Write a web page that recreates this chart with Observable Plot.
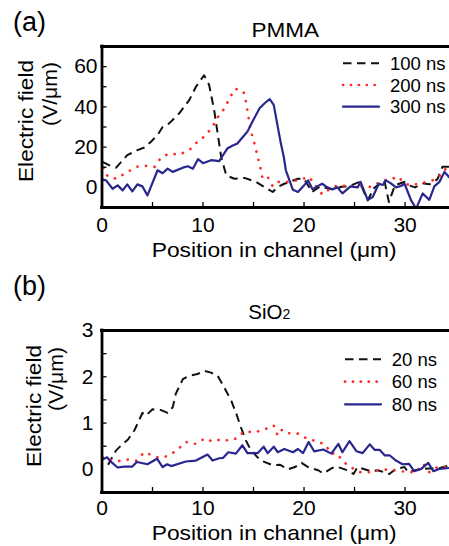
<!DOCTYPE html>
<html>
<head>
<meta charset="utf-8">
<script src="https://cdn.jsdelivr.net/npm/d3@7"></script>
<script src="https://cdn.jsdelivr.net/npm/@observablehq/plot@0.6"></script>
<style>
  html, body { margin: 0; padding: 0; background: #fff; }
  #wrap { position: relative; width: 449px; height: 546px; overflow: hidden; background: #fff; }
  #wrap > svg { position: absolute; left: 0; }
  #overlay { top: 0; pointer-events: none; font-family: "Liberation Sans", Arial, sans-serif; }
</style>
</head>
<body>
<div id="wrap"></div>
<script>
// ---------- Data (position in µm, electric field) ----------
const xTicks = [0, 10, 20, 30];
const xMinorTicks = [5, 10, 15, 20, 25, 30];

// (a) PMMA, field in V/µm
const pmmaYTicks = [0, 20, 40, 60];
const pmmaYMinor = [10, 20, 30, 40, 50, 60];
const pmmaLabels = ["100 ns", "200 ns", "300 ns"];
const pmma100 = [[0.05,12.7],[0.7,11],[1.4,9.8],[2.5,16],[3.5,18.5],[4.2,19.8],[4.85,22.7],[5.5,26],[6.0,30],[6.65,31.8],[7.65,36.8],[8.65,43.5],[9.3,50],[10.1,55.7],[10.6,51],[11.1,38.5],[11.45,26.8],[11.8,15],[12.3,6],[13.1,4.3],[14.1,4.7],[15.25,2.7],[16.05,0.2],[16.9,-2.3],[17.4,0.2],[18.05,1.8],[19.4,4.3],[20.0,4.3],[20.8,-2.3],[21.6,0.5],[22.3,-0.5],[23.0,-1],[23.7,0.3],[24.4,0.5],[25.5,2.7],[26.3,-6.5],[26.9,-0.5],[27.95,3.5],[28.4,-7.3],[29.0,1],[29.9,2.7],[30.4,1],[31.0,0],[31.7,2],[32.4,1.5],[33.2,4],[33.7,10.2],[34.4,10.2]];
const pmma200 = [[0.15,9.8],[0.55,5.5],[1.4,4.3],[2.4,7.3],[3.4,10.2],[4.35,10.7],[5.2,10.2],[5.85,14.8],[6.65,16.8],[7.65,16.3],[8.65,18.5],[9.45,22.7],[10.2,25.5],[10.95,30.2],[11.6,36],[12.2,39.7],[12.6,44.3],[13.2,49],[14.0,47.7],[14.25,42.7],[14.4,38],[14.7,28.5],[15.0,23.5],[15.25,18.5],[15.7,9.3],[15.9,4.3],[16.4,5.2],[16.9,0.5],[17.4,2.7],[18.4,2.7],[19.4,3.5],[20.5,5.2],[21.2,0.5],[21.8,-3.5],[22.5,-1],[23.3,1],[24.5,0.5],[25.8,0.5],[26.6,0.2],[27.2,1.8],[27.9,3.5],[28.8,4.3],[29.2,5.5],[29.8,3],[30.4,1],[31.0,1.5],[31.7,2.2],[32.4,3],[33.2,4.3],[33.9,8.5],[34.3,11]];
const pmma300 = [[0,4],[0.4,3.5],[1.05,-0.7],[1.55,1],[2.05,-1.5],[2.5,1.5],[3.0,-2],[3.5,1.5],[4.0,0.5],[4.5,-4],[5.5,8.5],[6.0,7],[6.5,9.3],[7.0,7.7],[8.0,9.8],[8.5,10.5],[9.0,9.3],[9.5,14],[10.0,12],[10.8,13.5],[11.6,13],[12.4,19.3],[12.9,20.7],[13.4,21.8],[13.9,24.8],[14.4,27.7],[14.9,32.7],[15.6,39.3],[16.1,41.8],[16.6,43.8],[17.0,41],[17.7,22],[18.0,15],[18.2,8.5],[18.9,-1.2],[19.4,-2.3],[19.9,0.4],[20.4,3.5],[20.85,-1],[21.3,0.5],[21.8,1.8],[22.3,0],[22.8,-1],[23.3,0],[23.8,-3],[24.6,0.5],[25.3,0],[25.6,2.7],[26.3,-6.2],[26.8,-4.8],[27.4,1.8],[27.8,1.2],[28.1,3.5],[28.6,2],[29.1,0],[29.6,0.7],[29.95,1.8],[30.6,-6.5],[31.1,-10.5],[31.75,-3],[32.4,-6.2],[32.9,0.5],[33.4,2.7],[33.9,7.7],[34.5,4.3]];

// (b) SiO2, field in V/µm
const sio2YTicks = [0, 1, 2, 3];
const sio2YMinor = [0.5, 1, 1.5, 2, 2.5];
const sio2Labels = ["20 ns", "60 ns", "80 ns"];
const sio2_20 = [[0.6,0.1],[1.4,0.41],[2.05,0.55],[2.55,0.64],[3.2,0.84],[3.5,0.98],[4.0,1.22],[4.35,1.16],[5.0,1.3],[5.85,1.28],[6.5,1.22],[7.0,1.34],[7.3,1.63],[8.0,1.95],[8.6,2.02],[9.45,2.06],[10.1,2.13],[10.8,2.09],[11.45,2.02],[12.1,1.77],[12.8,1.48],[13.3,1.2],[13.75,0.91],[14.25,0.62],[14.75,0.41],[15.4,0.26],[15.75,0.19],[16.9,0.09],[17.6,0.1],[18.4,0],[19.1,0.05],[19.75,0.14],[20.4,0.05],[21.4,-0.02],[21.9,-0.09],[22.8,0.03],[23.2,0.06],[24.3,-0.02],[24.9,-0.1],[25.3,0.05],[26.6,-0.04],[27.3,-0.02],[28.45,-0.1],[29.1,0.01],[29.95,0.05],[30.3,-0.06],[31.3,0],[32.3,0.02],[33.3,0.02],[34.3,0.08]];
const sio2_60 = [[0.05,0.26],[0.7,0.21],[1.55,0.18],[2.55,0.21],[3.35,0.18],[4.2,0.37],[4.8,0.32],[5.6,0.25],[6.35,0.28],[7.3,0.39],[8.3,0.59],[9.3,0.55],[10.2,0.67],[10.95,0.6],[11.8,0.65],[12.6,0.62],[13.3,0.67],[14.1,0.82],[15.1,0.8],[16.05,0.86],[17.0,0.95],[17.4,0.73],[17.8,0.85],[18.2,0.78],[18.7,0.78],[19.5,0.77],[20.3,0.66],[21.2,0.61],[22.1,0.54],[22.65,0.34],[23.3,0.34],[23.8,0.18],[24.6,0.05],[25.5,-0.06],[26.5,-0.06],[27.3,-0.02],[28.3,0],[29.0,-0.02],[30.2,-0.06],[31.1,-0.06],[31.8,0.12],[32.4,-0.06],[33.2,0.05],[34.3,0.05]];
const sio2_80 = [[0,0.21],[0.5,0.26],[0.9,0.16],[1.55,0.04],[2.2,0.06],[3.0,0.06],[3.45,0.16],[4.5,0.11],[5.45,0.23],[6.0,0.05],[6.45,0.11],[6.85,0.07],[8.3,0.17],[9.3,0.19],[10.45,0.32],[10.95,0.19],[11.6,0.24],[12.0,0.25],[12.5,0.37],[13.25,0.34],[13.9,0.52],[14.4,0.35],[15.4,0.35],[16.0,0.49],[16.4,0.35],[17.0,0.49],[17.4,0.37],[18.05,0.44],[18.9,0.37],[19.4,0.44],[19.9,0.35],[20.45,0.59],[21.0,0.39],[21.9,0.43],[22.7,0.34],[23.4,0.55],[23.8,0.37],[24.5,0.61],[25.2,0.39],[25.8,0.35],[26.5,0.54],[27.0,0.42],[27.5,0.42],[28.0,0.3],[28.5,0.3],[29.1,0.19],[29.75,0.11],[30.4,0.12],[30.9,-0.04],[31.6,0.01],[32.3,0.14],[32.8,-0.04],[33.4,0.01],[34.4,0.03]];

// ---------- Styles ----------
const FONT = '"Liberation Sans", Arial, Helvetica, sans-serif';
const styles = [
  {stroke: "#111", strokeWidth: 2, strokeDasharray: "8.5,5.5", strokeLinecap: "butt"},
  {stroke: "#ff2b2b", strokeWidth: 2.7, strokeDasharray: "0.1,8.5", strokeLinecap: "round"},
  {stroke: "#27278f", strokeWidth: 2.2, strokeDasharray: null, strokeLinecap: "round"}
];

function panel({series, yDomain, yTicks, yMinor, marginTop, marginBottom, height, tickPadY, tickPadX}) {
  const width = 449, marginLeft = 101.5, marginRight = 0;
  const fw = width - marginLeft - marginRight;
  const fh = height - marginTop - marginBottom;
  const frameStroke = {stroke: "black", strokeWidth: 2.8, strokeLinecap: "square"};
  return Plot.plot({
    width, height, marginLeft, marginRight, marginTop, marginBottom,
    style: {fontFamily: FONT, fontSize: "21px", color: "black", background: "transparent"},
    x: {domain: [0, 34.4]},
    y: {domain: yDomain},
    marks: [
      ...series.map((s, i) => Plot.line(s, {...styles[i], clip: true})),
      Plot.tickX(xMinorTicks, {x: d => d, insetTop: fh - 5, stroke: "black", strokeWidth: 1.3}),
      Plot.tickY(yMinor, {y: d => d, insetRight: fw - 5, stroke: "black", strokeWidth: 1.3}),
      Plot.axisX({ticks: xTicks, tickSize: 0, tickPadding: tickPadX, tickFormat: d => String(d), label: null, fontSize: 21}),
      Plot.axisY({ticks: yTicks, tickSize: 0, tickPadding: tickPadY, tickFormat: d => String(d), label: null, fontSize: 21}),
      Plot.ruleX([0], frameStroke),
      Plot.ruleY(yDomain, frameStroke)
    ]
  });
}

const wrap = document.getElementById("wrap");

const topPanel = panel({
  series: [pmma100, pmma200, pmma300],
  yDomain: [-10, 70], yTicks: pmmaYTicks, yMinor: pmmaYMinor,
  height: 273, marginTop: 46, marginBottom: 66, tickPadY: 4.5, tickPadX: 9.5
});
topPanel.style.top = "0px";
wrap.appendChild(topPanel);

const bottomPanel = panel({
  series: [sio2_20, sio2_60, sio2_80],
  yDomain: [-0.5, 3], yTicks: sio2YTicks, yMinor: sio2YMinor,
  height: 273, marginTop: 57, marginBottom: 54, tickPadY: 8.5, tickPadX: 8
});
bottomPanel.style.top = "273px";
wrap.appendChild(bottomPanel);

// ---------- Overlay texts and legends ----------
const NS = "http://www.w3.org/2000/svg";
const ov = document.createElementNS(NS, "svg");
ov.setAttribute("id", "overlay");
ov.setAttribute("width", 449);
ov.setAttribute("height", 546);
wrap.appendChild(ov);

function txt(str, attrs) {
  const t = document.createElementNS(NS, "text");
  for (const k in attrs) t.setAttribute(k, attrs[k]);
  t.textContent = str;
  ov.appendChild(t);
  return t;
}
function line(attrs) {
  const l = document.createElementNS(NS, "line");
  for (const k in attrs) if (attrs[k] != null) l.setAttribute(k, attrs[k]);
  ov.appendChild(l);
}

// panel letters
txt("(a)", {x: 13, y: 31, "font-size": 27});
txt("(b)", {x: 13, y: 295, "font-size": 27});

// titles
txt("PMMA", {x: 251.5, y: 37.3, "font-size": 20.5, textLength: 67.5, lengthAdjust: "spacingAndGlyphs"});
const sio = txt("SiO", {x: 248.3, y: 319.3, "font-size": 20.5});
const sub = document.createElementNS(NS, "tspan");
sub.setAttribute("font-size", 14);
sub.textContent = "2";
sio.appendChild(sub);

// x labels
txt("Position in channel (μm)", {x: 151.7, y: 256.7, "font-size": 21, textLength: 245, lengthAdjust: "spacingAndGlyphs"});
txt("Position in channel (μm)", {x: 151.7, y: 540, "font-size": 21, textLength: 245, lengthAdjust: "spacingAndGlyphs"});

// y labels (rotated)
function ylab(str, bx, endY, len) {
  txt(str, {transform: `translate(${bx},${endY}) rotate(-90)`, "text-anchor": "end", "font-size": 21, textLength: len, lengthAdjust: "spacingAndGlyphs"});
}
ylab("Electric field", 33, 60, 122);
ylab("(V/μm)", 57, 62, 64);
ylab("Electric field", 41, 345, 122);
ylab("(V/μm)", 63, 347, 64);

// legends
function legend(labels, x1, x2, tx, ys) {
  labels.forEach((lab, i) => {
    const s = styles[i];
    line({x1, x2, y1: ys[i], y2: ys[i], stroke: s.stroke, "stroke-width": s.strokeWidth,
          "stroke-dasharray": i === 1 ? "0.1,7.8" : s.strokeDasharray, "stroke-linecap": s.strokeLinecap});
    txt(lab, {x: tx, y: ys[i] + 6.6, "font-size": 18.5});
  });
}
legend(pmmaLabels, 343, 379, 390, [63.3, 85, 106.7]);
legend(sio2Labels, 345, 381, 391.7, [359.3, 381.7, 404.3]);
</script>
</body>
</html>
